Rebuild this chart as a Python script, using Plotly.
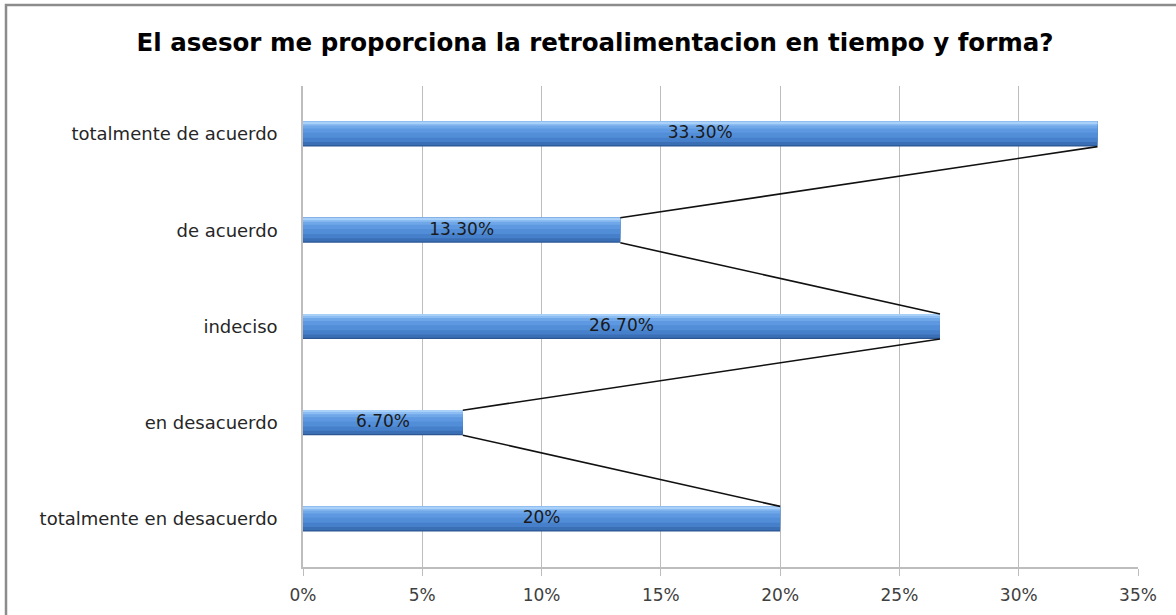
import plotly.graph_objects as go

categories = ["totalmente de acuerdo", "de acuerdo", "indeciso", "en desacuerdo", "totalmente en desacuerdo"]
values = [0.333, 0.133, 0.267, 0.067, 0.20]
labels = ["33.30%", "13.30%", "26.70%", "6.70%", "20%"]
x_ticks = [0, 0.05, 0.10, 0.15, 0.20, 0.25, 0.30, 0.35]
x_tick_text = ["0%", "5%", "10%", "15%", "20%", "25%", "30%", "35%"]

n = len(categories)
ypos = [n - 1 - i for i in range(n)]  # top category highest
bw = 0.26

fig = go.Figure()

# layered bars to imitate the vertical gradient fill (fractions from bottom to top)
bands = [
    (0.00, 1.00, "#2B5692"),
    (0.05, 1.00, "#3A6FB6"),
    (0.18, 1.00, "#4680CA"),
    (0.35, 1.00, "#528DD8"),
    (0.55, 1.00, "#5D98E0"),
    (0.72, 1.00, "#6FA7E8"),
    (0.84, 1.00, "#8BBDF2"),
    (0.93, 1.00, "#A9D0F8"),
]
for f0, f1, col in bands:
    fig.add_trace(go.Bar(
        x=values, y=ypos, orientation="h",
        width=[bw * (f1 - f0)] * n, offset=[-bw / 2 + bw * f0] * n,
        marker=dict(color=col, line=dict(width=0)),
        hoverinfo="skip", showlegend=False,
    ))

# data labels
fig.add_trace(go.Scatter(
    x=[v / 2 for v in values], y=ypos, mode="text", text=labels,
    textfont=dict(family="DejaVu Sans, sans-serif", size=17, color="#1A1A1A"),
    textposition="middle center", showlegend=False, hoverinfo="skip",
))

# series lines connecting bar ends
lx, ly = [], []
for i in range(n - 1):
    lx += [values[i], values[i + 1], None]
    ly += [ypos[i] - bw / 2, ypos[i + 1] + bw / 2, None]
fig.add_trace(go.Scatter(
    x=lx, y=ly, mode="lines", line=dict(color="#111111", width=1.6),
    showlegend=False, hoverinfo="skip",
))

L, R, T, B = 303, 38, 86, 48
W, H = 1176, 615
pw, ph = W - L - R, H - T - B
bx0 = (6 - L) / pw
by1 = (H - B - 5) / ph
by0 = (H - B - 630) / ph
bx1 = (W + 20 - L) / pw

fig.update_layout(
    width=W, height=H,
    margin=dict(l=L, r=R, t=T, b=B),
    paper_bgcolor="white", plot_bgcolor="white",
    barmode="overlay",
    title=dict(
        text="<b>El asesor me proporciona la retroalimentacion en tiempo y forma?</b>",
        x=0.506, xanchor="center", y=1 - 42 / H, yanchor="middle",
        font=dict(family="DejaVu Sans, sans-serif", size=24.5, color="#000000"),
    ),
    xaxis=dict(
        range=[0, 0.35], tickvals=x_ticks, ticktext=x_tick_text,
        showgrid=True, gridcolor="#BDBDBD", gridwidth=1,
        showline=True, linecolor="#BDBDBD", linewidth=1.5,
        ticks="outside", ticklen=7, tickcolor="#BDBDBD", ticklabelstandoff=5,
        tickfont=dict(family="DejaVu Sans, sans-serif", size=17, color="#404040"),
        zeroline=False, fixedrange=True, automargin=False,
    ),
    yaxis=dict(
        range=[-0.5, n - 0.5], tickvals=ypos, ticktext=categories,
        showgrid=False, showline=True, linecolor="#BDBDBD", linewidth=1.5,
        ticks="", ticklabelstandoff=20,
        tickfont=dict(family="DejaVu Sans, sans-serif", size=18, color="#262626"),
        zeroline=False, fixedrange=True, automargin=False,
    ),
    shapes=[dict(
        type="path", xref="paper", yref="paper",
        path=f"M {bx0} {by0} L {bx0} {by1} L {bx1} {by1}",
        line=dict(color="#8C8C8C", width=2.5),
    )],
)

fig.write_html(
    "out.html",
    config={"displayModeBar": False},
    post_script="document.body.style.margin='0';document.body.style.padding='0';",
)
